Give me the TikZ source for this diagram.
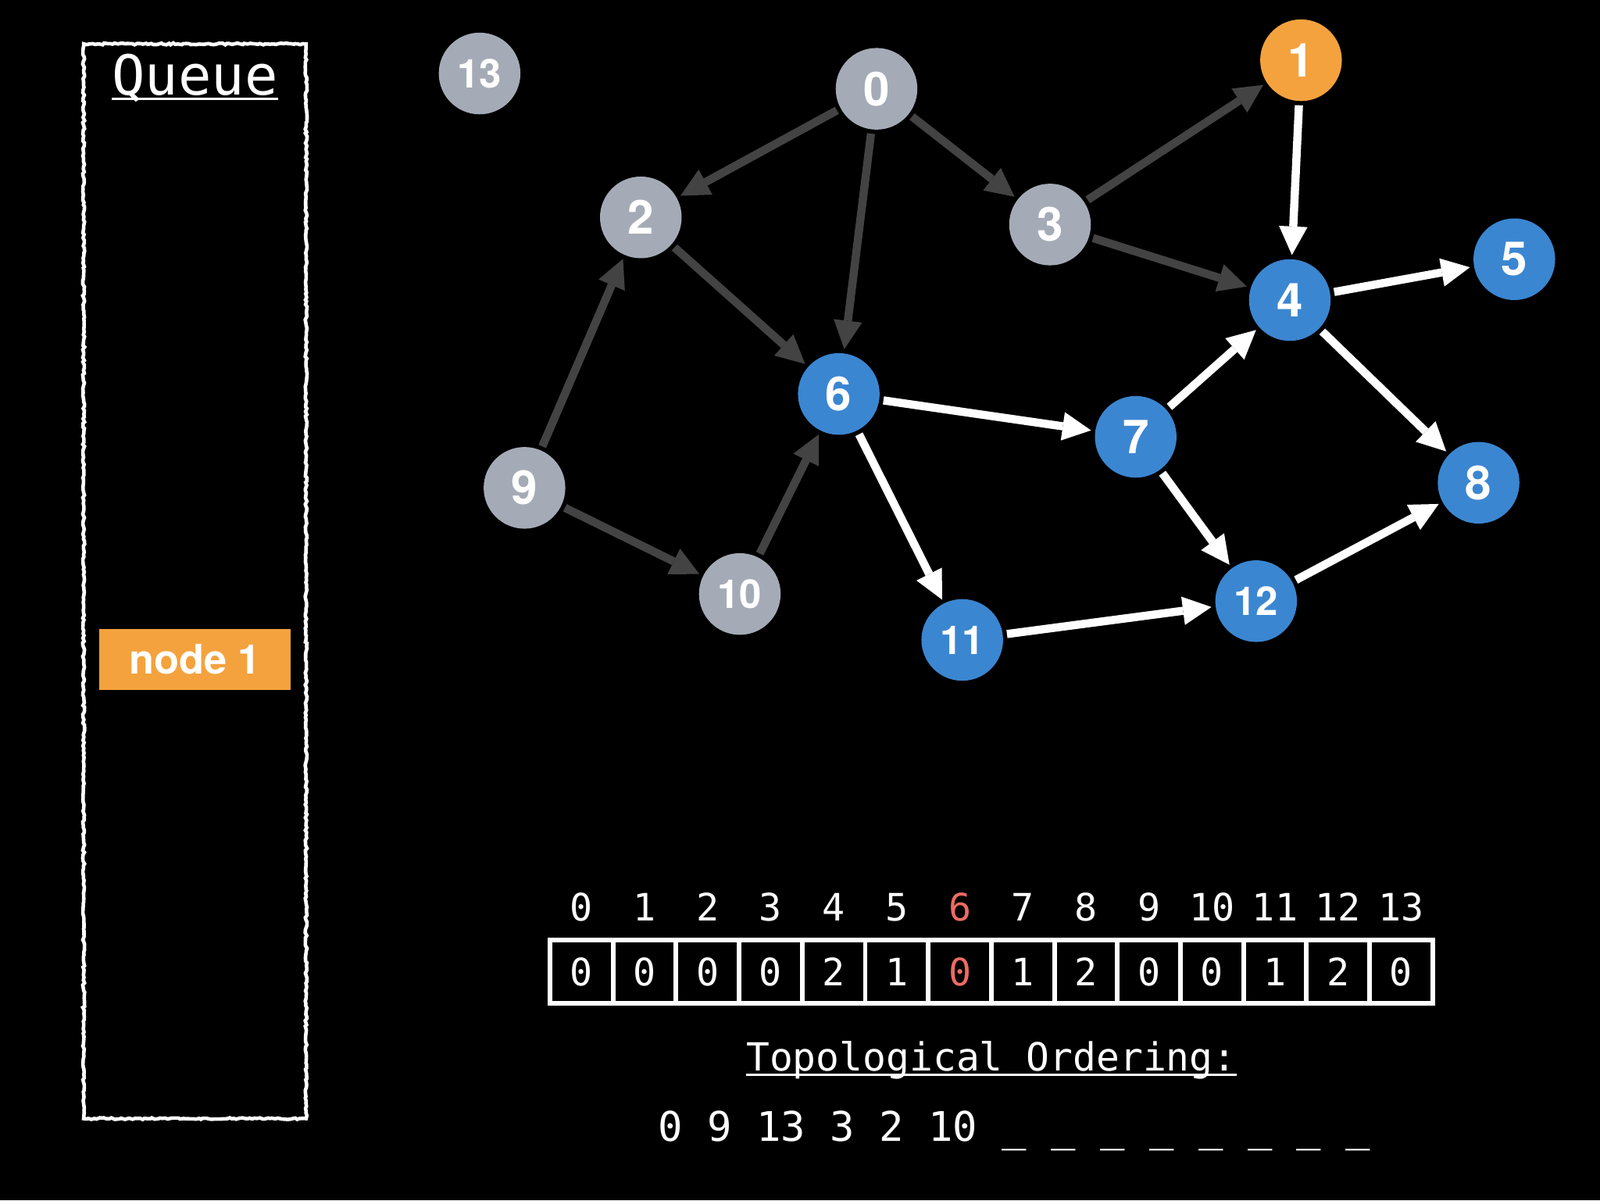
\documentclass[tikz,border=0pt]{standalone}
\usepackage{fontspec}
\setmainfont{TeX Gyre Heros}
\newfontfamily\monof{DejaVu Sans Mono}
\usetikzlibrary{arrows.meta,decorations.pathmorphing}
\definecolor{ngray}{HTML}{A5ABB6}
\definecolor{nblue}{HTML}{3B86D1}
\definecolor{norange}{HTML}{F4A23D}
\definecolor{edark}{HTML}{434343}
\definecolor{hred}{HTML}{EE6B64}
\tikzset{
  vtx/.style={circle, minimum size=80pt, inner sep=0pt, text=white,
    font=\fontsize{46pt}{46pt}\selectfont\bfseries},
  vtxs/.style={vtx, font=\fontsize{39pt}{39pt}\selectfont\bfseries},
  gv/.style={fill=ngray}, bv/.style={fill=nblue}, ov/.style={fill=norange},
  arr/.style={line width=8pt, -{Triangle[length=28pt,width=28pt,line width=0pt]},
    shorten <=4pt, shorten >=4pt},
  darkedge/.style={arr, draw=edark},
  whiteedge/.style={arr, draw=white},
  cell/.style={draw=white, line width=4.5pt, minimum width=61.8pt, minimum height=62pt,
    inner sep=0pt, text=white, font=\monof\fontsize{37pt}{37pt}\selectfont},
  idx/.style={inner sep=0pt, anchor=base, text=white, font=\monof\fontsize{37pt}{37pt}\selectfont},
  monotext/.style={inner sep=0pt, anchor=base, text=white},
}
\begin{document}
\begin{tikzpicture}[x=1pt,y=-1pt]
\fill[black] (0,0) rectangle (1568,1176);
\useasboundingbox (0,0) rectangle (1568,1176);

% Queue box
\draw[white, line width=3.5pt, decorate,
  decoration={random steps, segment length=2.5pt, amplitude=0.9pt}]
  (82,43) rectangle (300,1096);
\node[monotext, font=\monof\fontsize{54pt}{54pt}\selectfont] (qtitle) at (191,93) {Queue};
\draw[white, line width=2.5pt] ([yshift=-4pt]qtitle.base west) -- ([yshift=-4pt]qtitle.base east);
\node[fill=norange, minimum width=188pt, minimum height=60pt, inner sep=0pt, text=white,
  font=\fontsize{40pt}{40pt}\selectfont\bfseries] (q1) at (191,646) {node 1};

% Graph nodes
\node[vtxs, gv] (n13) at (470,72) {13};
\node[vtx, gv] (n0) at (859,87) {0};
\node[vtx, ov] (n1) at (1275,59) {1};
\node[vtx, gv] (n2) at (628,213) {2};
\node[vtx, gv] (n3) at (1029,220) {3};
\node[vtx, bv] (n4) at (1264,294) {4};
\node[vtx, bv] (n5) at (1484,254) {5};
\node[vtx, bv] (n6) at (822,386) {6};
\node[vtx, bv] (n7) at (1113,428) {7};
\node[vtx, bv] (n8) at (1449,473) {8};
\node[vtx, gv] (n9) at (514,478) {9};
\node[vtxs, gv] (n10) at (725,582) {10};
\node[vtxs, bv] (n11) at (943,627) {11};
\node[vtxs, bv] (n12) at (1231,589) {12};

% Processed (dark) edges
\draw[darkedge] (n0) -- (n2);
\draw[darkedge] (n0) -- (n6);
\draw[darkedge] (n0) -- (n3);
\draw[darkedge] (n3) -- (n1);
\draw[darkedge] (n3) -- (n4);
\draw[darkedge] (n2) -- (n6);
\draw[darkedge] (n9) -- (n2);
\draw[darkedge] (n9) -- (n10);
\draw[darkedge] (n10) -- (n6);

% Remaining (white) edges
\draw[whiteedge] (n1) -- (n4);
\draw[whiteedge] (n4) -- (n5);
\draw[whiteedge] (n4) -- (n8);
\draw[whiteedge] (n6) -- (n7);
\draw[whiteedge] (n6) -- (n11);
\draw[whiteedge] (n7) -- (n4);
\draw[whiteedge] (n7) -- (n12);
\draw[whiteedge] (n11) -- (n12);
\draw[whiteedge] (n12) -- (n8);

% In-degree array
\foreach \i/\v in {0/0,1/0,2/0,3/0,4/2,5/1,7/1,8/2,9/0,10/0,11/1,12/2,13/0}{
  \node[cell] (c\i) at ({539+30.9+61.786*\i},952) {\v};
  \node[idx] (i\i) at ({539+30.9+61.786*\i},902) {\i};
}
\node[cell, text=hred] (c6) at ({539+30.9+61.786*6},952) {0};
\node[idx, text=hred] (i6) at ({539+30.9+61.786*6},902) {6};

% Topological ordering
\node[monotext, font=\monof\fontsize{38pt}{38pt}\selectfont] (toph) at (971.5,1049.5) {Topological Ordering:};
\draw[white, line width=2.5pt] ([yshift=-3.5pt]toph.base west) -- ([yshift=-3.5pt]toph.base east);
\node[monotext, font=\monof\fontsize{40pt}{40pt}\selectfont] (topo) at (994,1118) {0 9 13 3 2 10 \_ \_ \_ \_ \_ \_ \_ \_};
\end{tikzpicture}
\end{document}
